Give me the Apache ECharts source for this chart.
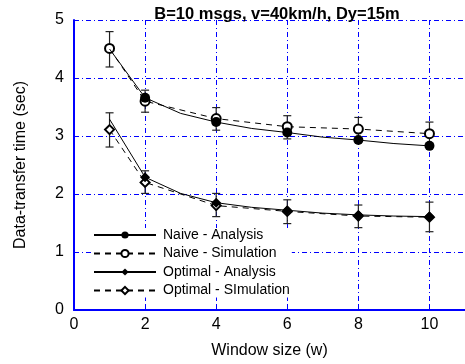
<!DOCTYPE html>
<html><head><meta charset="utf-8">
<script src="https://cdn.jsdelivr.net/npm/echarts@6/dist/echarts.min.js"></script>
<style>html,body{margin:0;padding:0;background:#fff}#c{width:465px;height:364px}</style>
</head><body><div id="c"></div>
<script>
// Window sizes
var simX = [1, 2, 4, 6, 8, 10];
var anaX = [1, 2, 3, 4, 5, 6, 7, 8, 9, 10];
// Analysis curves (markers only at the simulated window sizes)
var naiveAnalysis = [4.50, 3.66, 3.39, 3.24, 3.13, 3.06, 2.98, 2.93, 2.87, 2.83];
var optimalAnalysis = [3.29, 2.29, 2.01, 1.85, 1.77, 1.72, 1.67, 1.64, 1.62, 1.61];
// Simulation values and error bars
var naiveSim = [4.51, 3.60, 3.30, 3.16, 3.12, 3.04];
var naiveSimLow = [4.19, 3.41, 3.10, 2.95, 2.92, 2.84];
var naiveSimHigh = [4.80, 3.79, 3.49, 3.35, 3.32, 3.24];
var optimalSim = [3.11, 2.20, 1.80, 1.70, 1.62, 1.60];
var optimalSimLow = [2.81, 2.01, 1.61, 1.49, 1.42, 1.35];
var optimalSimHigh = [3.40, 2.40, 2.01, 1.90, 1.81, 1.86];
var markerX = [2, 4, 6, 8, 10];

var FONT = "'Liberation Sans', Arial, sans-serif";
function anaData(ys) {
  return anaX.map(function (x, i) {
    var d = { value: [x, ys[i]] };
    if (markerX.indexOf(x) < 0) d.symbol = 'none';
    return d;
  });
}
function simData(ys) { return simX.map(function (x, i) { return [x, ys[i]]; }); }
function errData(lo, hi) { return simX.map(function (x, i) { return [x, lo[i], hi[i]]; }); }
function errRender(params, api) {
  var x = api.value(0);
  var p1 = api.coord([x, api.value(1)]);
  var p2 = api.coord([x, api.value(2)]);
  var w = 4;
  var st = { stroke: '#222', lineWidth: 1.2 };
  return { type: 'group', children: [
    { type: 'line', shape: { x1: p1[0], y1: p1[1], x2: p2[0], y2: p2[1] }, style: st },
    { type: 'line', shape: { x1: p1[0] - w, y1: p1[1], x2: p1[0] + w, y2: p1[1] }, style: st },
    { type: 'line', shape: { x1: p2[0] - w, y1: p2[1], x2: p2[0] + w, y2: p2[1] }, style: st }
  ]};
}
var grid = { color: '#0000FF', type: [5, 3, 1, 3], width: 1 };
var chart = echarts.init(document.getElementById('c'), null, { renderer: 'canvas' });
chart.setOption({
  animation: false,
  backgroundColor: '#fff',
  title: { text: 'B=10 msgs, v=40km/h, Dy=15m', left: 272, textAlign: 'center', top: 1,
    textStyle: { fontFamily: FONT, fontSize: 16.5, fontWeight: 'bold', color: '#000' } },
  grid: { left: 74, right: -3, top: 20, bottom: 54 },
  xAxis: { type: 'value', min: 0, max: 11, interval: 2,
    name: 'Window size (w)', nameLocation: 'middle', nameGap: 33,
    nameTextStyle: { fontFamily: FONT, fontSize: 16, color: '#000' },
    axisLine: { onZero: false, lineStyle: { color: '#0000FF', width: 2 } },
    axisTick: { inside: true, length: 5, lineStyle: { color: '#0000FF', width: 1 } },
    axisLabel: { fontFamily: FONT, fontSize: 16, color: '#000', margin: 7, showMaxLabel: false },
    splitLine: { show: true, lineStyle: grid } },
  yAxis: { type: 'value', min: 0, max: 5, interval: 1,
    name: 'Data-transfer time (sec)', nameLocation: 'middle', nameGap: 45,
    nameTextStyle: { fontFamily: FONT, fontSize: 16, color: '#000' },
    axisLine: { show: true, onZero: false, lineStyle: { color: '#0000FF', width: 2 } },
    axisTick: { show: true, inside: true, length: 5, lineStyle: { color: '#0000FF', width: 1 } },
    axisLabel: { fontFamily: FONT, fontSize: 16, color: '#000', margin: 10 },
    splitLine: { show: true, lineStyle: grid } },
  legend: { orient: 'vertical', left: 93, top: 228, itemWidth: 62, itemHeight: 9, itemGap: 4.5,
    padding: [0, 2, 0, 0], backgroundColor: '#fff',
    textStyle: { fontFamily: FONT, fontSize: 14, color: '#000', padding: [0, 0, 0, 2] },
    data: ['Naive - Analysis', 'Naive - Simulation', 'Optimal - Analysis', 'Optimal - SImulation'] },
  series: [
    { type: 'custom', name: 'errN', data: errData(naiveSimLow, naiveSimHigh), renderItem: errRender, z: 1 },
    { type: 'custom', name: 'errO', data: errData(optimalSimLow, optimalSimHigh), renderItem: errRender, z: 1 },
    { type: 'line', name: 'Naive - Analysis', data: anaData(naiveAnalysis), symbol: 'circle', symbolSize: 10,
      itemStyle: { color: '#000' }, lineStyle: { color: '#000', width: 1 }, z: 3 },
    { type: 'line', name: 'Naive - Simulation', data: simData(naiveSim), symbol: 'emptyCircle', symbolSize: 9,
      itemStyle: { color: '#000', borderWidth: 1 }, lineStyle: { color: '#000', width: 1, type: [6, 5] }, z: 2 },
    { type: 'line', name: 'Optimal - Analysis', data: anaData(optimalAnalysis), symbol: 'diamond', symbolSize: 10,
      itemStyle: { color: '#000' }, lineStyle: { color: '#000', width: 1 }, z: 3 },
    { type: 'line', name: 'Optimal - SImulation', data: simData(optimalSim), symbol: 'emptyDiamond', symbolSize: 9,
      itemStyle: { color: '#000', borderWidth: 1 }, lineStyle: { color: '#000', width: 1, type: [6, 5] }, z: 2 }
  ]
});
</script></body></html>
